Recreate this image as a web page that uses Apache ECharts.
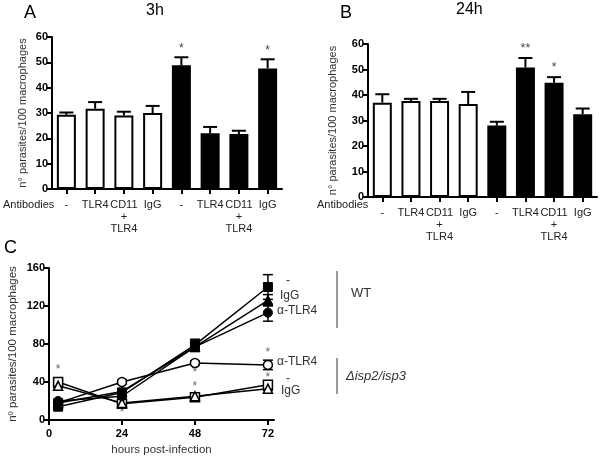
<!DOCTYPE html>
<html><head><meta charset="utf-8">
<script src="https://cdn.jsdelivr.net/npm/echarts@6/dist/echarts.min.js"></script>
<style>html,body{margin:0;padding:0;background:#fff}#c{width:601px;height:457px}</style>
</head><body><div id="c"></div>
<script>
// ---------- data ----------
const catLabels = ['-', 'TLR4', 'CD11\n+\nTLR4', 'IgG', '-', 'TLR4', 'CD11\n+\nTLR4', 'IgG'];
const yTicksAB = [0, 10, 20, 30, 40, 50, 60];
const meanA = [29.3, 31.7, 29.0, 30.0, 48.8, 22.0, 21.7, 47.6];
const semA  = [0.9, 2.6, 1.5, 2.8, 3.2, 2.5, 1.3, 3.6];
const starsA = ['', '', '', '', '*', '', '', '*'];
const meanB = [37.0, 37.6, 37.6, 36.5, 28.0, 50.8, 44.8, 32.5];
const semB  = [3.3, 0.9, 0.9, 4.7, 1.5, 3.7, 2.2, 2.2];
const starsB = ['', '', '', '', '', '**', '*', ''];

const hours = [3, 24, 48, 72];
const hourTicks = [0, 24, 48, 72];
const wtNone    = [14, 29, 79, 140];
const wtNoneErr = [2, 3, 6, 13];
const wtIgG     = [18, 30, 77, 126];
const wtIgGErr  = [2, 3, 4, 6];
const wtTLR4    = [20, 25, 77, 113];
const wtTLR4Err = [2, 3, 4, 9];
const mutTLR4    = [18, 40, 60, 58];
const mutTLR4Err = [2, 2, 2, 5];
const mutNone    = [40, 17, 24, 37];
const mutNoneErr = [2, 2, 2, 3];
const mutIgG     = [36, 18, 25, 33];
const mutIgGErr  = [2, 2, 2, 2];
const starsC = [[3, 53], [24, 8], [48, 50], [48, 35], [72, 71], [72, 45]];

// ---------- helpers ----------
const FONT = 'Arial, "Liberation Sans", sans-serif';
const isBlack = i => i >= 4;

function barData(vals) {
  return vals.map((v, i) => ({
    value: v,
    itemStyle: isBlack(i) ? { color: '#000', borderColor: '#000', borderWidth: 2 }
                          : { color: '#fff', borderColor: '#000', borderWidth: 2 }
  }));
}

function upperErr(params, api) {
  const i = api.value(0), m = api.value(1), e = api.value(2);
  const star = api.value(3);
  const p0 = api.coord([i, m]);
  const p1 = api.coord([i, m + e]);
  const half = 7;
  const children = [
    { type: 'line', shape: { x1: p0[0], y1: p0[1], x2: p1[0], y2: p1[1] }, style: { stroke: '#000', lineWidth: 2 } },
    { type: 'line', shape: { x1: p1[0] - half, y1: p1[1], x2: p1[0] + half, y2: p1[1] }, style: { stroke: '#000', lineWidth: 2 } }
  ];
  if (star) {
    children.push({ type: 'text', style: { text: star, x: p1[0], y: p1[1] - 3, align: 'center', verticalAlign: 'bottom', font: '12px ' + FONT, fill: '#444' } });
  }
  return { type: 'group', children };
}

function symErr(params, api) {
  const x = api.value(0), m = api.value(1), e = api.value(2);
  const pt = api.coord([x, m + e]);
  const pb = api.coord([x, m - e]);
  const half = 5;
  return { type: 'group', children: [
    { type: 'line', shape: { x1: pt[0], y1: pt[1], x2: pb[0], y2: pb[1] }, style: { stroke: '#000', lineWidth: 1.5 } },
    { type: 'line', shape: { x1: pt[0] - half, y1: pt[1], x2: pt[0] + half, y2: pt[1] }, style: { stroke: '#000', lineWidth: 1.5 } },
    { type: 'line', shape: { x1: pb[0] - half, y1: pb[1], x2: pb[0] + half, y2: pb[1] }, style: { stroke: '#000', lineWidth: 1.5 } }
  ]};
}

const axisLineBlack = { show: true, lineStyle: { color: '#000', width: 2 } };
const tickBlack = { show: true, length: 5, lineStyle: { color: '#000', width: 2 } };

function catAxis(gi) {
  return {
    type: 'category', gridIndex: gi, data: catLabels,
    axisLine: axisLineBlack,
    axisTick: Object.assign({ alignWithLabel: true }, tickBlack),
    axisLabel: { color: '#222', fontSize: 11, fontFamily: FONT, lineHeight: 12, margin: 10, interval: 0 }
  };
}
function valAxisAB(gi, gap) {
  return {
    type: 'value', gridIndex: gi, min: yTicksAB[0], max: yTicksAB[yTicksAB.length - 1], interval: yTicksAB[1] - yTicksAB[0],
    splitLine: { show: false },
    axisLine: axisLineBlack, axisTick: tickBlack,
    axisLabel: { color: '#000', fontWeight: 'bold', fontSize: 11, fontFamily: FONT, margin: 4 },
    name: 'n° parasites/100 macrophages', nameLocation: 'middle', nameGap: gap,
    nameTextStyle: { color: '#333', fontSize: 11, fontFamily: FONT }
  };
}

function lineSeries(vals, symbol, filled, size) {
  return {
    type: 'line', xAxisIndex: 2, yAxisIndex: 2,
    data: hours.map((h, i) => [h, vals[i]]),
    symbol, symbolSize: size, showSymbol: true,
    lineStyle: { color: '#000', width: 1.5 },
    itemStyle: filled ? { color: '#000', borderColor: '#000', borderWidth: 1 }
                      : { color: '#fff', borderColor: '#000', borderWidth: 1.5 },
    z: filled ? 4 : 3
  };
}
function errSeries(vals, errs) {
  return {
    type: 'custom', xAxisIndex: 2, yAxisIndex: 2, renderItem: symErr,
    data: hours.map((h, i) => [h, vals[i], errs[i]]), z: 2
  };
}

const chart = echarts.init(document.getElementById('c'), null, { renderer: 'canvas' });
chart.setOption({
  animation: false,
  backgroundColor: '#fff',
  textStyle: { fontFamily: FONT },
  grid: [
    { left: 52, top: 37, width: 230, height: 152, outerBoundsMode: 'none' },
    { left: 368, top: 44, width: 229, height: 153, outerBoundsMode: 'none' },
    { left: 49, top: 268, width: 225, height: 152, outerBoundsMode: 'none' }
  ],
  xAxis: [
    catAxis(0), catAxis(1),
    {
      type: 'value', gridIndex: 2, min: 0, max: 74,
      splitLine: { show: false },
      axisLine: axisLineBlack,
      axisTick: Object.assign({ customValues: hourTicks }, tickBlack),
      axisLabel: { customValues: hourTicks, color: '#000', fontWeight: 'bold', fontSize: 11, fontFamily: FONT, margin: 8 },
      name: 'hours post-infection', nameLocation: 'middle', nameGap: 24,
      nameTextStyle: { color: '#333', fontSize: 11.5, fontFamily: FONT }
    }
  ],
  yAxis: [
    valAxisAB(0, 24), valAxisAB(1, 30),
    {
      type: 'value', gridIndex: 2, min: 0, max: 160, interval: 40,
      splitLine: { show: false },
      axisLine: axisLineBlack, axisTick: tickBlack,
      axisLabel: { color: '#000', fontWeight: 'bold', fontSize: 11, fontFamily: FONT, margin: 4 },
      name: 'nº parasites/100 macrophages', nameLocation: 'middle', nameGap: 30,
      nameTextStyle: { color: '#333', fontSize: 11.5, fontFamily: FONT }
    }
  ],
  series: [
    { type: 'bar', xAxisIndex: 0, yAxisIndex: 0, data: barData(meanA), barWidth: 19, z: 2 },
    { type: 'custom', xAxisIndex: 0, yAxisIndex: 0, renderItem: upperErr, z: 3,
      data: meanA.map((m, i) => [i, m, semA[i], starsA[i]]) },
    { type: 'bar', xAxisIndex: 1, yAxisIndex: 1, data: barData(meanB), barWidth: 19, z: 2 },
    { type: 'custom', xAxisIndex: 1, yAxisIndex: 1, renderItem: upperErr, z: 3,
      data: meanB.map((m, i) => [i, m, semB[i], starsB[i]]) },

    errSeries(wtNone, wtNoneErr), errSeries(wtIgG, wtIgGErr), errSeries(wtTLR4, wtTLR4Err),
    errSeries(mutTLR4, mutTLR4Err), errSeries(mutNone, mutNoneErr), errSeries(mutIgG, mutIgGErr),
    lineSeries(mutTLR4, 'circle', false, 9),
    lineSeries(mutNone, 'rect', false, 9),
    lineSeries(mutIgG, 'triangle', false, 9),
    lineSeries(wtTLR4, 'circle', true, 9),
    lineSeries(wtIgG, 'triangle', true, 10),
    lineSeries(wtNone, 'rect', true, 9),
    {
      type: 'scatter', xAxisIndex: 2, yAxisIndex: 2, symbolSize: 0, data: starsC,
      label: { show: true, position: 'inside', formatter: '*', color: '#444', fontSize: 12, fontFamily: FONT }
    }
  ],
  graphic: [
    { type: 'text', left: 24, top: 4, style: { text: 'A', font: '18px ' + FONT, fill: '#000' } },
    { type: 'text', left: 146, top: 3, style: { text: '3h', font: '16px ' + FONT, fill: '#000' } },
    { type: 'text', left: 340, top: 4, style: { text: 'B', font: '18px ' + FONT, fill: '#000' } },
    { type: 'text', left: 456, top: 2, style: { text: '24h', font: '16px ' + FONT, fill: '#000' } },
    { type: 'text', left: 4, top: 239, style: { text: 'C', font: '18px ' + FONT, fill: '#000' } },
    { type: 'text', left: 3, top: 199, style: { text: 'Antibodies', font: '11px ' + FONT, fill: '#222' } },
    { type: 'text', left: 317, top: 199, style: { text: 'Antibodies', font: '11px ' + FONT, fill: '#222' } },

    { type: 'text', left: 286, top: 275, style: { text: '-', font: '12px ' + FONT, fill: '#333' } },
    { type: 'text', left: 280, top: 290, style: { text: 'IgG', font: '12px ' + FONT, fill: '#333' } },
    { type: 'text', left: 277, top: 305, style: { text: 'α-TLR4', font: '12px ' + FONT, fill: '#333' } },
    { type: 'line', shape: { x1: 337, y1: 271, x2: 337, y2: 328 }, style: { stroke: '#333', lineWidth: 1 } },
    { type: 'text', left: 351, top: 287, style: { text: 'WT', font: '13px ' + FONT, fill: '#333' } },

    { type: 'text', left: 277, top: 356, style: { text: 'α-TLR4', font: '12px ' + FONT, fill: '#333' } },
    { type: 'text', left: 286, top: 373, style: { text: '-', font: '12px ' + FONT, fill: '#333' } },
    { type: 'text', left: 281, top: 385, style: { text: 'IgG', font: '12px ' + FONT, fill: '#333' } },
    { type: 'line', shape: { x1: 337, y1: 358, x2: 337, y2: 394 }, style: { stroke: '#333', lineWidth: 1 } },
    { type: 'text', left: 346, top: 370, style: { text: 'Δisp2/isp3', font: 'italic 13px ' + FONT, fill: '#333' } }
  ]
});
</script>
</body></html>
